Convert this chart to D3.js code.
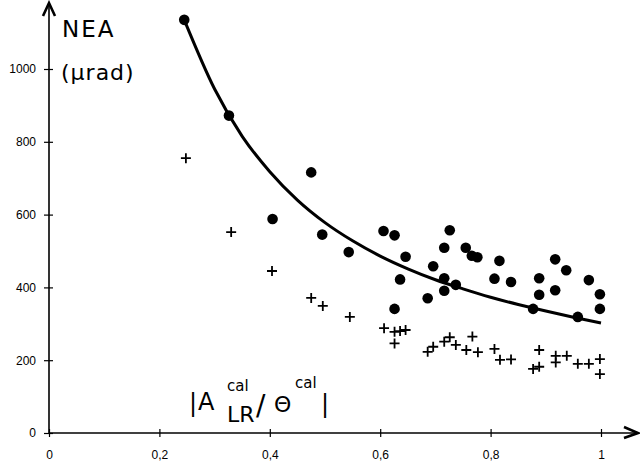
<!DOCTYPE html>
<html>
<head>
<meta charset="utf-8">
<script src="https://cdn.jsdelivr.net/npm/d3@7"></script>
<style>
  body { margin: 0; background: #fff; }
  svg { display: block; }
  .tick text { font-family: "Liberation Sans", Arial, sans-serif; font-size: 12px; fill: #000; }
  .lbl { font-family: "DejaVu Sans", sans-serif; fill: #000; }
</style>
</head>
<body>
<svg id="chart" width="640" height="468"></svg>
<script>
// ronds : NEA mesuree
const dotX = [0.245, 0.326, 0.405, 0.475, 0.495, 0.543, 0.606, 0.626, 0.646, 0.636, 0.626, 0.686, 0.696, 0.716, 0.726, 0.716, 0.716, 0.737, 0.755, 0.766, 0.776, 0.807, 0.816, 0.837, 0.877, 0.888, 0.888, 0.917, 0.917, 0.937, 0.958, 0.978, 0.998, 0.998]
const dotY = [1135, 872, 588, 716, 545, 497, 555, 543, 484, 422, 341, 370, 458, 509, 557, 425, 391, 407, 509, 487, 483, 424, 473, 415, 341, 425, 380, 477, 392, 447, 319, 420, 381, 341]

// croix
const crossX = [0.248, 0.330, 0.404, 0.475, 0.496, 0.545, 0.607, 0.626, 0.636, 0.646, 0.626, 0.686, 0.696, 0.716, 0.726, 0.737, 0.756, 0.767, 0.777, 0.807, 0.817, 0.837, 0.888, 0.877, 0.888, 0.918, 0.918, 0.938, 0.958, 0.978, 0.998, 0.998]
const crossY = [755, 552, 445, 371, 349, 319, 288, 278, 280, 283, 246, 223, 237, 251, 263, 242, 228, 265, 222, 231, 201, 202, 228, 176, 182, 212, 194, 212, 190, 190, 203, 162]

// courbe
const curveX = [0.245, 0.3, 0.35, 0.4, 0.45, 0.5, 0.55, 0.6, 0.65, 0.7, 0.75, 0.8, 0.85, 0.9, 0.95, 1.0]
const curveY = [1135, 945, 815, 718, 640, 578, 528, 486, 451, 421, 396, 373, 353, 335, 318, 302]

// graduations
const xTicks = [0, 0.2, 0.4, 0.6, 0.8, 1]
const yTicks = [0, 200, 400, 600, 800, 1000]

const svg = d3.select('#chart')

const x = d3.scaleLinear().domain([0, 1]).range([49, 601])
const y = d3.scaleLinear().domain([0, 1000]).range([433, 69])

const fr = d3.formatLocale({decimal: ',', thousands: '', grouping: [3], currency: ['', '']})

//axe x
const gx = svg.append('g')
  .attr('transform', `translate(0, ${y(0)})`)
  .call(d3.axisBottom(x).tickValues(xTicks).tickFormat(fr.format('~g')).tickSize(5).tickPadding(12))
gx.select('.domain').remove()
gx.selectAll('.tick line').attr('y1', -4).attr('y2', 4).attr('stroke-width', 1.2)

//axe y
const gy = svg.append('g')
  .attr('transform', `translate(${x(0)}, 0)`)
  .call(d3.axisLeft(y).tickValues(yTicks).tickFormat(d3.format('d')).tickSize(5).tickPadding(8))
gy.select('.domain').remove()
gy.selectAll('.tick line').attr('x1', 4).attr('x2', -5).attr('stroke-width', 1.2)

//lignes des axes + fleches
svg.append('line')
  .attr('x1', x(0)).attr('x2', 636).attr('y1', y(0)).attr('y2', y(0))
  .attr('stroke', '#000').attr('stroke-width', 1.6)
svg.append('line')
  .attr('x1', x(0)).attr('x2', x(0)).attr('y1', y(0) + 1).attr('y2', 4)
  .attr('stroke', '#000').attr('stroke-width', 1.6)
svg.append('path')
  .attr('d', `M${x(0) - 6},16 L${x(0)},3 L${x(0) + 6},16`)
  .attr('fill', 'none').attr('stroke', '#000').attr('stroke-width', 2.6)
svg.append('path')
  .attr('d', `M624,${y(0) - 6} L638,${y(0)} L624,${y(0) + 5}`)
  .attr('fill', 'none').attr('stroke', '#000').attr('stroke-width', 2.6)

//courbe
const line = d3.line()
  .x((d, i) => x(curveX[i]))
  .y(d => y(d))
  .curve(d3.curveMonotoneX)
svg.append('path')
  .attr('d', line(curveY))
  .attr('fill', 'none')
  .attr('stroke', '#000')
  .attr('stroke-width', 3)

//ronds
svg.append('g')
  .selectAll('circle')
  .data(dotY)
  .join('circle')
  .attr('cx', (d, i) => x(dotX[i]))
  .attr('cy', d => y(d))
  .attr('r', 5.3)
  .attr('fill', '#000')

//croix
svg.append('g')
  .selectAll('path')
  .data(crossY)
  .join('path')
  .attr('d', (d, i) => {
    const cx = x(crossX[i]), cy = y(d)
    return `M${cx - 5},${cy} H${cx + 5} M${cx},${cy - 5} V${cy + 5}`
  })
  .attr('stroke', '#000')
  .attr('stroke-width', 1.8)

//titres
svg.append('text').attr('class', 'lbl').attr('x', 62).attr('y', 37)
  .attr('font-size', 23).attr('letter-spacing', 2).text('NEA')
svg.append('text').attr('class', 'lbl').attr('x', 61).attr('y', 80)
  .attr('font-size', 22).attr('letter-spacing', 1).text('(µrad)')

const xl = [
  {t: '|', x: 189, y: 411, s: 24},
  {t: 'A', x: 198, y: 410, s: 24},
  {t: 'cal', x: 227, y: 391, s: 15},
  {t: 'LR', x: 227, y: 422, s: 22},
  {t: '/', x: 256, y: 415, s: 28},
  {t: 'Θ', x: 274, y: 412, s: 22},
  {t: 'cal', x: 295, y: 388, s: 15},
  {t: '|', x: 321, y: 412, s: 24}
]
svg.append('g')
  .selectAll('text')
  .data(xl)
  .join('text')
  .attr('class', 'lbl')
  .attr('x', d => d.x)
  .attr('y', d => d.y)
  .attr('font-size', d => d.s)
  .text(d => d.t)
</script>
</body>
</html>
